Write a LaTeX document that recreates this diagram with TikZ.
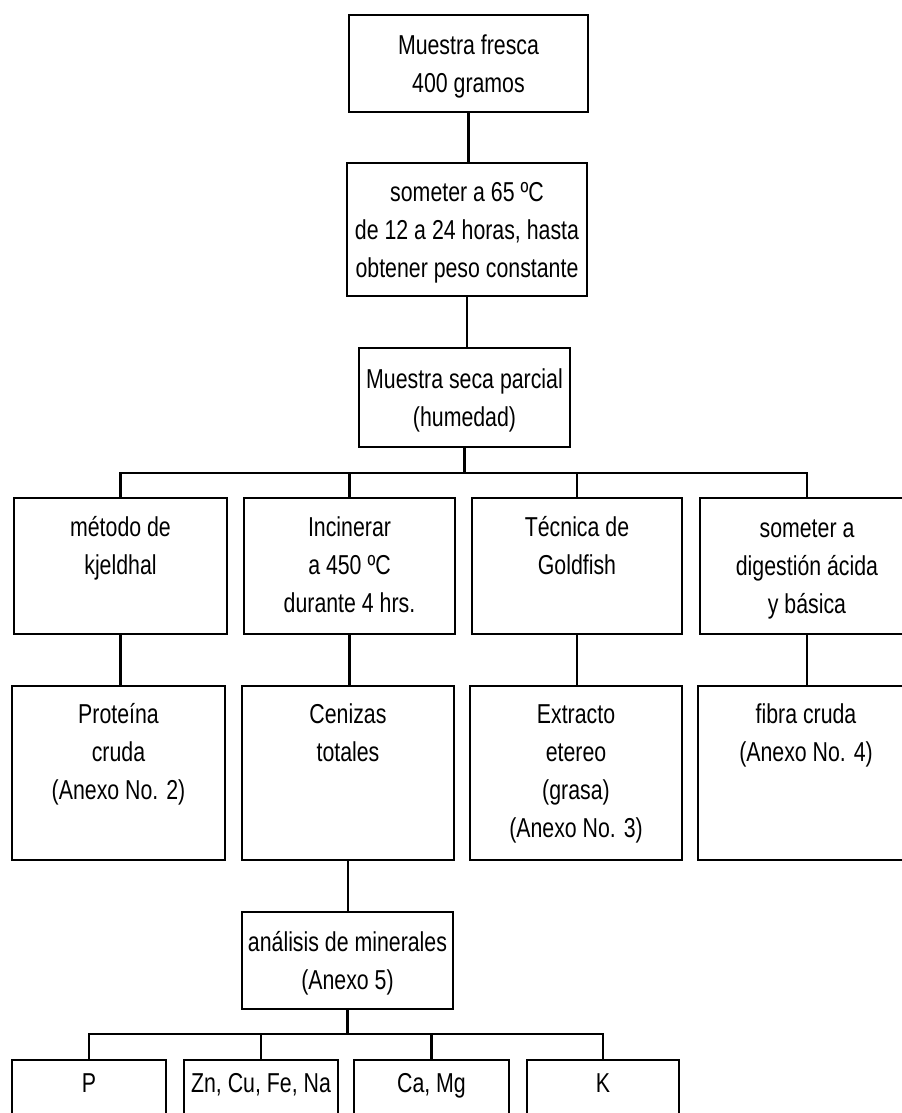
\documentclass[tikz,border=0pt]{standalone}
\usepackage{fontspec}
\setmainfont{Liberation Sans}[FakeStretch=0.78]
\newdimen\px \px=0.75pt
\newcommand\cell[4]{\parbox[b][#1\px][t]{#2\px}{\centering\fontsize{20.5pt}{28.5pt}\selectfont\rule{0pt}{#3\px}#4\par}}
\tikzset{
  box/.style={draw, line width=1.6pt, inner sep=0pt, outer sep=0pt, anchor=north west},
  conn/.style={line width=1.6pt, line join=miter}
}
\begin{document}
\begin{tikzpicture}[x=0.75pt,y=-0.75pt]
\useasboundingbox (0,0) rectangle (902,1113);
\clip (0,0) rectangle (902,1113);
\fill[white] (0,0) rectangle (902,1113);
% top column
\node[box] (n1) at (349,15) {\cell{97}{239}{39}{Muestra fresca\\400 gramos}};
\node[box] (n2) at (347,163) {\cell{133}{240}{38}{someter a 65 ºC\\de 12 a 24 horas, hasta\\obtener peso constante}};
\node[box] (n3) at (359,348) {\cell{99}{211}{40}{Muestra seca parcial\\(humedad)}};
% row 1
\node[box] (a1) at (14,498) {\cell{136}{213}{38}{método de\\kjeldhal}};
\node[box] (a2) at (244,498) {\cell{136}{211}{38}{Incinerar\\a 450 ºC\\durante 4 hrs.}};
\node[box] (a3) at (472,498) {\cell{136}{210}{38}{Técnica de\\Goldfish}};
\node[box] (a4) at (700,498) {\cell{136}{214}{39}{someter a\\digestión ácida\\y básica}};
% row 2
\node[box] (b1) at (12,686) {\cell{174}{213}{37}{Proteína\\cruda\\(Anexo No. 2)}};
\node[box] (b2) at (242,686) {\cell{174}{212}{37}{Cenizas\\totales}};
\node[box] (b3) at (470,686) {\cell{174}{212}{37}{Extracto\\etereo\\(grasa)\\(Anexo No. 3)}};
\node[box] (b4) at (698,686) {\cell{174}{216}{37}{fibra cruda\\(Anexo No. 4)}};
% minerals
\node[box] (c) at (242,912) {\cell{97}{211}{39}{análisis de minerales\\(Anexo 5)}};
% row 3
\node[box] (d1) at (12,1060) {\cell{90}{154}{32}{P}};
\node[box] (d2) at (184,1060) {\cell{90}{154}{32}{Zn, Cu, Fe, Na}};
\node[box] (d3) at (354,1060) {\cell{90}{155}{32}{Ca, Mg}};
\node[box] (d4) at (527,1060) {\cell{90}{152}{32}{K}};
% junctions
\coordinate (j1) at (464,473);
\coordinate (j2) at (347,1034);
% connectors
\draw[conn] (n1.south) -- (n1.south |- n2.north);
\draw[conn] (n2.south) -- (n2.south |- n3.north);
\draw[conn] (n3.south) -- (n3.south |- j1);
\draw[conn] (a1.north) -- (a1.north |- j1) -- (a4.north |- j1) -- (a4.north);
\draw[conn] (a2.north) -- (a2.north |- j1);
\draw[conn] (a3.north) -- (a3.north |- j1);
\draw[conn] (a1.south) -- (a1.south |- b1.north);
\draw[conn] (a2.south) -- (a2.south |- b2.north);
\draw[conn] (a3.south) -- (a3.south |- b3.north);
\draw[conn] (a4.south) -- (a4.south |- b4.north);
\draw[conn] (b2.south) -- (b2.south |- c.north);
\draw[conn] (c.south) -- (c.south |- j2);
\draw[conn] (d1.north) -- (d1.north |- j2) -- (d4.north |- j2) -- (d4.north);
\draw[conn] (d2.north) -- (d2.north |- j2);
\draw[conn] (d3.north) -- (d3.north |- j2);
\end{tikzpicture}
\end{document}
